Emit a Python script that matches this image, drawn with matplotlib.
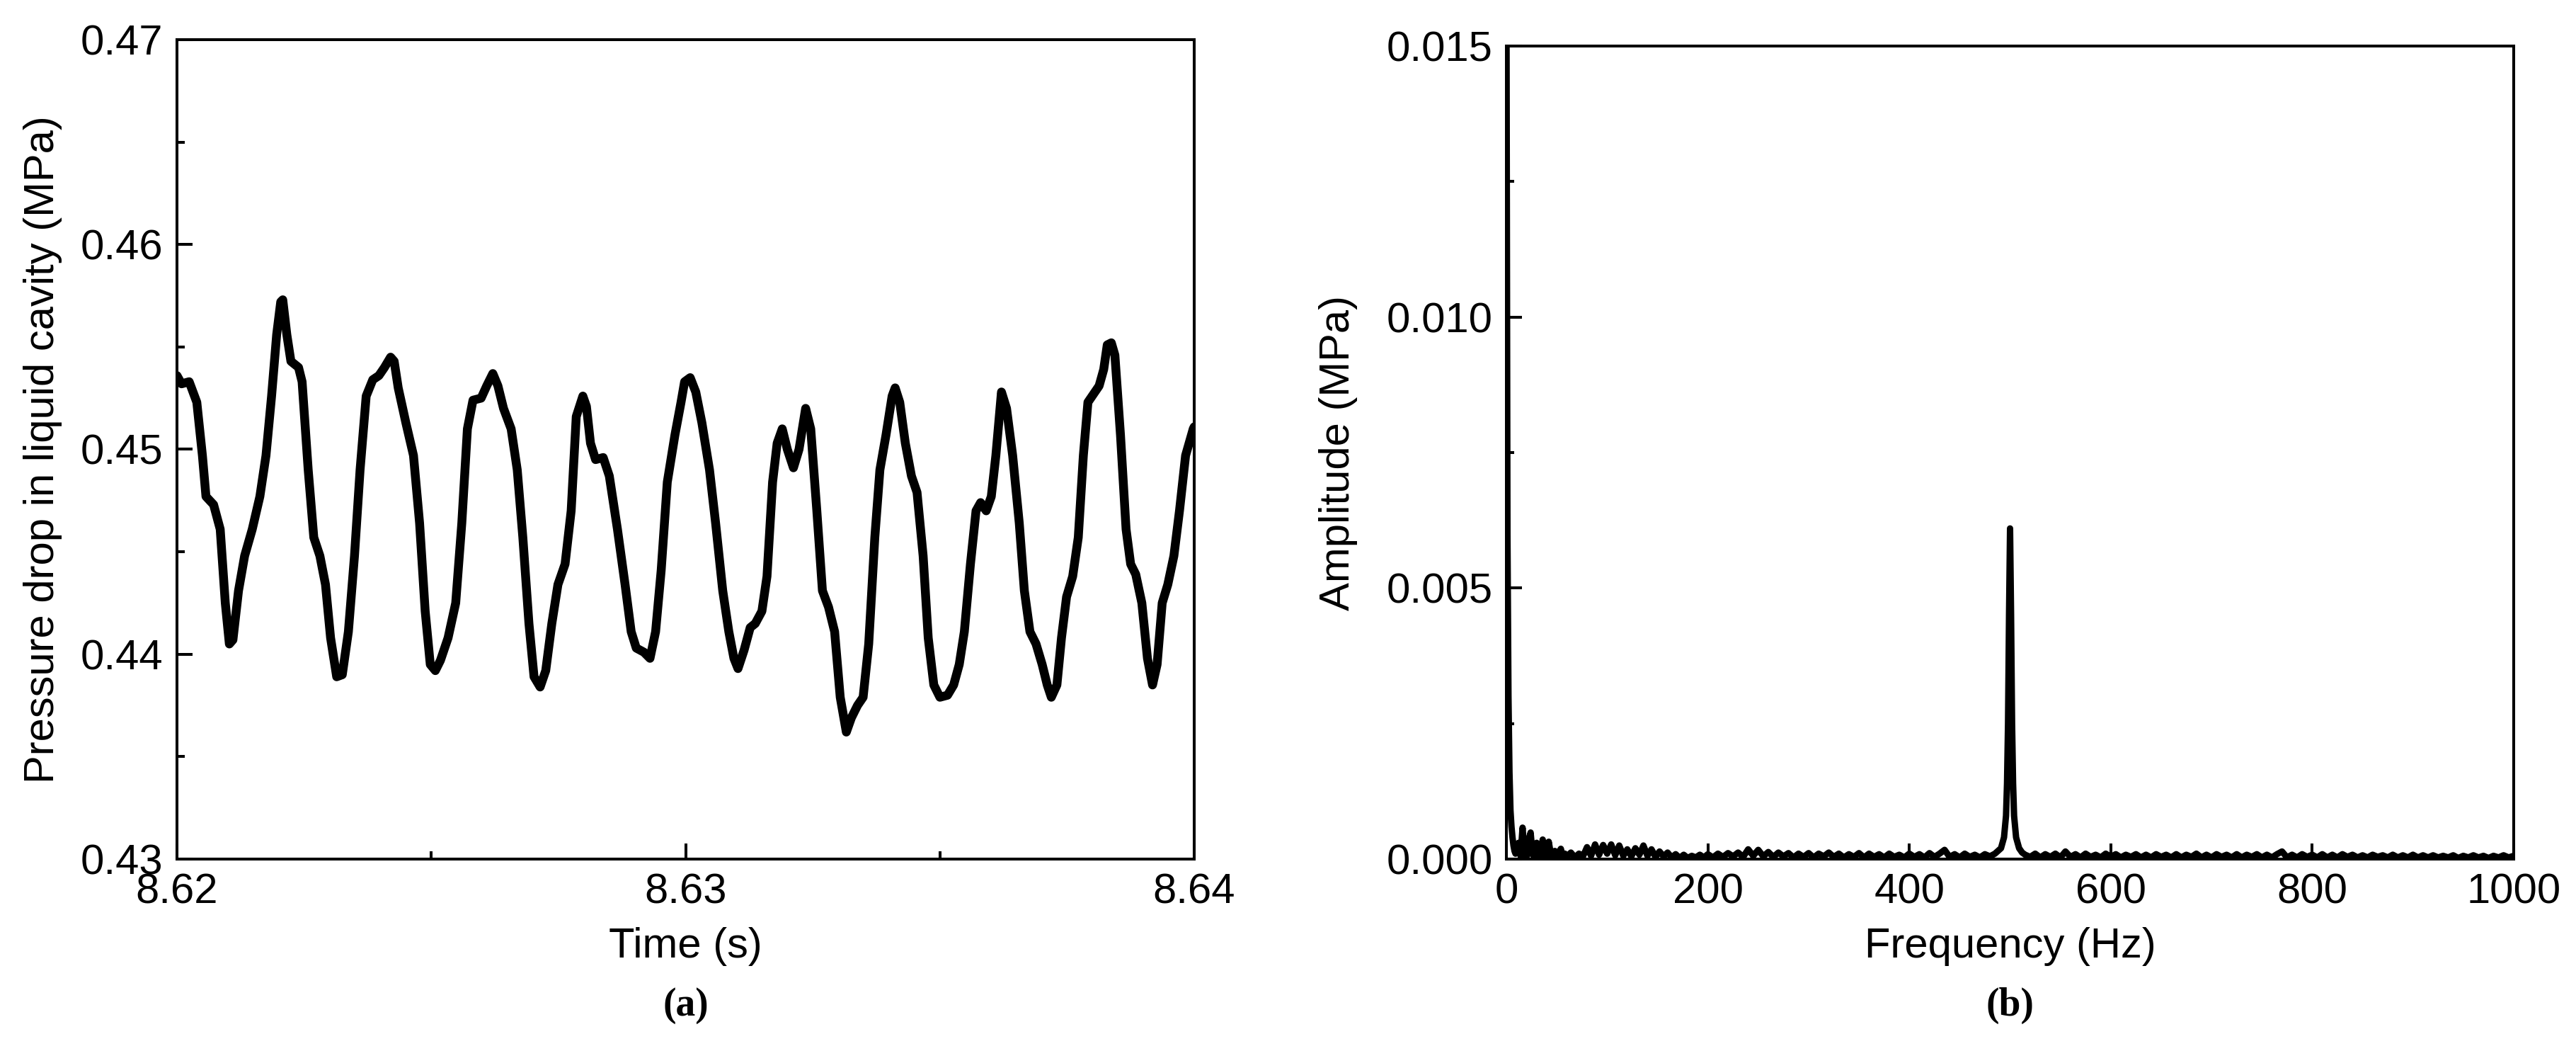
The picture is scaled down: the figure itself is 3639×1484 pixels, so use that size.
import numpy as np
import matplotlib
matplotlib.use('Agg')
import matplotlib.pyplot as plt
from matplotlib.ticker import MultipleLocator, FormatStrFormatter

plt.rcParams['font.family'] = ['Liberation Sans', 'DejaVu Sans']

# (a) pressure drop time series, time offset from 8.62 s in ms
t_ms = [0, 0.09, 0.24, 0.39, 0.5, 0.57, 0.72, 0.85, 0.95, 1.03, 1.1, 1.21, 1.33, 1.48,
        1.63, 1.75, 1.86, 1.96, 2.04, 2.08, 2.16, 2.24, 2.39, 2.46, 2.58, 2.69, 2.81,
        2.92, 3.02, 3.14, 3.25, 3.37, 3.49, 3.6, 3.72, 3.85, 3.97, 4.08, 4.2, 4.27,
        4.35, 4.5, 4.65, 4.77, 4.88, 4.98, 5.08, 5.18, 5.33, 5.48, 5.6, 5.71, 5.82,
        5.98, 6.09, 6.21, 6.31, 6.42, 6.57, 6.69, 6.8, 6.92, 7.02, 7.14, 7.25, 7.37,
        7.49, 7.63, 7.75, 7.85, 7.98, 8.05, 8.13, 8.23, 8.38, 8.5, 8.66, 8.81, 8.93,
        9.03, 9.18, 9.3, 9.41, 9.52, 9.64, 9.79, 9.91, 9.98, 10.09, 10.2, 10.32,
        10.47, 10.59, 10.73, 10.85, 10.95, 11.03, 11.15, 11.27, 11.37, 11.5, 11.6,
        11.71, 11.8, 11.9, 12.0, 12.12, 12.23, 12.36, 12.46, 12.58, 12.69, 12.81,
        12.93, 13.04, 13.16, 13.26, 13.38, 13.49, 13.6, 13.72, 13.82, 13.94, 14.06,
        14.12, 14.21, 14.32, 14.44, 14.55, 14.67, 14.77, 14.88, 15.0, 15.15, 15.27,
        15.38, 15.48, 15.6, 15.71, 15.8, 15.91, 16.01, 16.1, 16.21, 16.31, 16.43,
        16.56, 16.66, 16.77, 16.89, 17.01, 17.11, 17.19, 17.3, 17.39, 17.49, 17.61,
        17.72, 17.82, 17.91, 18.02, 18.13, 18.22, 18.29, 18.37, 18.44, 18.55, 18.66,
        18.75, 18.85, 18.97, 19.08, 19.18, 19.27, 19.37, 19.48, 19.6, 19.71, 19.83,
        19.98, 20.0]
pressure = [0.4536, 0.4532, 0.4533, 0.4523, 0.4497, 0.4477, 0.4473, 0.4461, 0.4425,
            0.4405, 0.4407, 0.4431, 0.4448, 0.4461, 0.4477, 0.4497, 0.4526, 0.4556,
            0.4572, 0.4573, 0.4556, 0.4543, 0.4540, 0.4533, 0.4490, 0.4457, 0.4448,
            0.4434, 0.4408, 0.4389, 0.4390, 0.4411, 0.4448, 0.4490, 0.4526, 0.4534,
            0.4536, 0.4540, 0.4545, 0.4543, 0.4530, 0.4513, 0.4497, 0.4464, 0.4421,
            0.4395, 0.4392, 0.4397, 0.4408, 0.4425, 0.4464, 0.4510, 0.4524, 0.4525,
            0.4531, 0.4537, 0.4531, 0.4520, 0.4510, 0.4490, 0.4457, 0.4415, 0.4389,
            0.4384, 0.4392, 0.4415, 0.4434, 0.4444, 0.4470, 0.4516, 0.4526, 0.4521,
            0.4503, 0.4495, 0.4496, 0.4487, 0.4461, 0.4434, 0.4411, 0.4403, 0.4401,
            0.4398, 0.4411, 0.4441, 0.4484, 0.4507, 0.4523, 0.4533, 0.4535, 0.4528,
            0.4513, 0.4490, 0.4464, 0.4431, 0.4411, 0.4398, 0.4393, 0.4402, 0.4413,
            0.4415, 0.4421, 0.4438, 0.4484, 0.4503, 0.4510, 0.4500, 0.4491, 0.4500,
            0.4520, 0.4510, 0.4470, 0.4431, 0.4423, 0.4411, 0.4379, 0.4362, 0.4369,
            0.4375, 0.4379, 0.4405, 0.4457, 0.4490, 0.4507, 0.4526, 0.4530, 0.4523,
            0.4503, 0.4487, 0.4479, 0.4448, 0.4408, 0.4385, 0.4379, 0.4380, 0.4385,
            0.4395, 0.4411, 0.4444, 0.4470, 0.4474, 0.4470, 0.4477, 0.4497, 0.4528,
            0.4520, 0.4497, 0.4464, 0.4431, 0.4411, 0.4405, 0.4395, 0.4385, 0.4379,
            0.4385, 0.4408, 0.4428, 0.4438, 0.4457, 0.4497, 0.4523, 0.4527, 0.4531,
            0.4539, 0.4551, 0.4552, 0.4546, 0.4507, 0.4461, 0.4444, 0.4439, 0.4425,
            0.4398, 0.4385, 0.4395, 0.4425, 0.4434, 0.4448, 0.4470, 0.4497, 0.4510,
            0.4511]

# (b) amplitude spectrum, amplitudes in 1e-4 MPa
freq_low = [0, 1, 2, 3, 4, 5, 6, 7, 8, 9, 10] + list(range(12, 60, 2))
amp_low = [160, 60, 30, 16, 9, 6, 4, 2.5, 1.5, 1.0, 1.2,
           3.0, 0.6, 5.8, 1.0, 0.4, 3.5, 4.9, 0.8, 0.3, 3.0,
           1.0, 0.4, 3.6, 1.2, 0.5, 3.2, 1.0, 0.5, 1.5, 0.4,
           1.2, 1.9, 0.5, 1.0]
freq_mid = list(range(60, 200, 4))
amp_mid = [0.4, 1.2, 0.3, 1.0, 0.5, 2.2, 0.6, 2.7, 0.8, 2.6, 1.0, 2.7, 0.7, 2.5,
           0.6, 1.8, 0.5, 2.0, 0.8, 2.5, 0.6, 1.8, 0.4, 1.4, 0.5, 1.2, 0.3, 0.9,
           0.2, 0.8, 0.2, 0.6, 0.3, 0.8, 0.3]
freq_a = list(range(200, 485, 5))
amp_a = [0.9, 0.3, 1.0, 0.4, 1.1, 0.5, 1.2, 0.4, 1.8, 0.6, 1.7, 0.5, 1.3, 0.4, 1.2, 0.5, 1.1, 0.3, 1.0, 0.4,
         1.1, 0.3, 1.0, 0.5, 1.2, 0.4, 1.0, 0.3, 0.9, 0.4, 1.1, 0.3, 1.0, 0.4, 0.9, 0.3, 1.0, 0.4, 0.8, 0.3,
         1.0, 0.4, 0.9, 0.3, 1.1, 0.4, 1.0, 1.7, 0.4, 0.9, 0.3, 1.0, 0.4, 0.8, 0.3, 0.9, 0.5]
freq_peak = [485, 488, 491, 494, 496, 497, 498, 499, 500, 501, 502, 503, 504, 506, 509, 512, 515]
amp_peak = [1.0, 1.5, 2.0, 4, 8, 14, 25, 45, 61, 45, 25, 14, 8, 4, 2.0, 1.2, 0.8]
freq_b = list(range(520, 1005, 5))
amp_b = [0.4, 1.0, 0.3, 0.9, 0.4, 1.0, 0.3, 1.4, 0.4, 0.9, 0.3, 1.0, 0.4, 0.8, 0.3, 1.0, 0.4, 0.9, 0.3, 0.8,
         0.4, 0.9, 0.3, 0.8, 0.3, 0.9, 0.4, 0.8, 0.3, 0.9, 0.3, 0.8, 0.4, 1.0, 0.3, 0.8, 0.3, 0.9, 0.4, 0.8,
         0.3, 0.9, 0.3, 0.8, 0.4, 0.9, 0.3, 0.8, 0.3, 0.9, 1.4, 0.3, 0.8, 0.3, 0.9, 0.4, 0.8, 0.3, 0.9, 0.3,
         0.8, 0.3, 0.9, 0.4, 0.8, 0.3, 0.7, 0.3, 0.8, 0.4, 0.7, 0.3, 0.8, 0.3, 0.7, 0.3, 0.8, 0.3, 0.7, 0.3,
         0.7, 0.3, 0.6, 0.3, 0.7, 0.2, 0.6, 0.3, 0.7, 0.3, 0.6, 0.2, 0.6, 0.3, 0.7, 0.3, 0.6]

freq = np.array(freq_low + freq_mid + freq_a + freq_peak + freq_b, dtype=float)
amp = np.array(amp_low + amp_mid + amp_a + amp_peak + amp_b) * 1e-4
time = 8.62 + np.array(t_ms) / 1000.0

FS = 43
fig = plt.figure(figsize=(36.39, 14.84), dpi=100)
ax1 = fig.add_axes([0.0687, 0.1826, 0.3949, 0.7797])
ax2 = fig.add_axes([0.5848, 0.1826, 0.3910, 0.7736])


def style(ax):
    for s in ax.spines.values():
        s.set_linewidth(2.9)
    ax.tick_params(which='both', direction='in', top=False, right=False,
                   width=2.9, labelsize=FS, pad=14)
    ax.tick_params(which='major', length=16)
    ax.tick_params(which='minor', length=8)


ax1.plot(time, pressure, color='black', lw=9, solid_joinstyle='round',
         solid_capstyle='round')
ax1.set_xlim(8.62, 8.64)
ax1.set_ylim(0.43, 0.47)
ax1.xaxis.set_major_locator(MultipleLocator(0.01))
ax1.xaxis.set_minor_locator(MultipleLocator(0.005))
ax1.yaxis.set_major_locator(MultipleLocator(0.01))
ax1.yaxis.set_minor_locator(MultipleLocator(0.005))
ax1.xaxis.set_major_formatter(FormatStrFormatter('%.2f'))
ax1.yaxis.set_major_formatter(FormatStrFormatter('%.2f'))
style(ax1)
ax1.set_xlabel('Time (s)', fontsize=FS)
ax1.set_ylabel('Pressure drop in liquid cavity (MPa)', fontsize=FS)
ax1.xaxis.set_label_coords(0.5, -0.083)
ax1.yaxis.set_label_coords(-0.113, 0.5)

ax2.plot(freq, amp, color='black', lw=6.5, solid_joinstyle='round')
ax2.set_xlim(0, 1000)
ax2.set_ylim(0, 0.015)
ax2.xaxis.set_major_locator(MultipleLocator(200))
ax2.yaxis.set_major_locator(MultipleLocator(0.005))
ax2.yaxis.set_minor_locator(MultipleLocator(0.0025))
ax2.yaxis.set_major_formatter(FormatStrFormatter('%.3f'))
style(ax2)
ax2.set_xlabel('Frequency (Hz)', fontsize=FS)
ax2.set_ylabel('Amplitude (MPa)', fontsize=FS)
ax2.xaxis.set_label_coords(0.5, -0.084)
ax2.yaxis.set_label_coords(-0.148, 0.5)

fig.text(0.0687 + 0.3949 / 2, 0.043, '(a)', fontsize=40, fontweight='bold',
         family='Liberation Serif', ha='center', va='center')
fig.text(0.5848 + 0.3910 / 2, 0.043, '(b)', fontsize=40, fontweight='bold',
         family='Liberation Serif', ha='center', va='center')

fig.savefig('out.png', dpi=100)
